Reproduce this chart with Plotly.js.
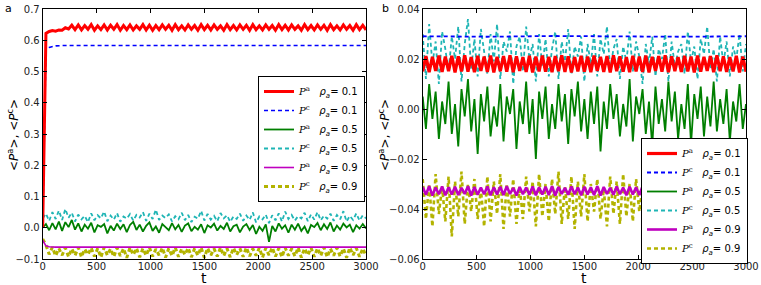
<!DOCTYPE html>
<html><head><meta charset="utf-8">
<script src="https://cdn.plot.ly/plotly-3.0.1.min.js"></script>
<style>html,body{margin:0;padding:0;background:#fff}#chart{width:761px;height:285px}</style>
</head><body><div id="chart"></div>
<script>
// sample times (every 30 steps)
const t = Array.from({length: 101}, (_, i) => i * 30);
const tBlueA = [0, 30, 60, 90, 120, 180, 3000];
const tMagA = [0, 30, 60, 120, 3000];
const tBlueB = [0, 600, 1200, 1800, 2400, 3000];

// ---------- panel a ----------
const redA = [0.000,0.622,0.628,0.631,0.629,0.633,0.632,0.640,0.636,0.648,
 0.634,0.649,0.633,0.647,0.635,0.650,0.632,0.646,0.634,0.649,
 0.633,0.648,0.635,0.650,0.632,0.647,0.634,0.649,0.633,0.646,
 0.635,0.650,0.633,0.648,0.632,0.647,0.634,0.649,0.635,0.648,
 0.632,0.650,0.634,0.646,0.633,0.649,0.635,0.647,0.632,0.650,
 0.634,0.648,0.633,0.649,0.635,0.646,0.632,0.650,0.634,0.647,
 0.633,0.649,0.635,0.648,0.632,0.650,0.634,0.646,0.633,0.649,
 0.635,0.647,0.632,0.650,0.634,0.648,0.633,0.649,0.635,0.646,
 0.632,0.650,0.634,0.647,0.633,0.649,0.635,0.648,0.632,0.650,
 0.634,0.646,0.633,0.649,0.635,0.647,0.632,0.650,0.634,0.648,0.633];
const blueA = [0.000,0.572,0.577,0.580,0.582,0.583,0.583];
const greenA = [0.000,0.012,-0.008,0.015,-0.005,0.020,-0.010,0.018,0.002,0.025,
 -0.006,0.014,-0.012,0.010,-0.003,0.016,-0.015,0.008,0.003,0.012,
 -0.018,0.006,-0.009,0.013,-0.004,0.011,-0.014,0.009,0.019,-0.007,
 0.010,-0.012,0.006,0.017,-0.010,0.004,-0.016,0.012,0.002,-0.008,
 0.015,-0.005,0.009,-0.013,0.007,0.014,-0.011,0.003,-0.006,0.011,
 -0.017,0.008,0.001,0.013,-0.009,0.006,-0.004,0.016,-0.012,0.005,
 0.010,-0.015,0.004,0.012,-0.007,0.009,-0.020,0.003,-0.010,0.011,
 -0.045,0.006,-0.012,0.014,-0.003,0.008,-0.016,0.010,-0.006,0.013,
 -0.010,0.004,-0.018,0.009,0.002,0.015,-0.008,0.011,-0.004,0.017,
 -0.012,0.007,-0.006,0.013,0.001,0.010,-0.014,0.008,-0.003,0.012,-0.002];
const cyanA = [0.030,0.045,0.022,0.050,0.028,0.055,0.025,0.060,0.032,0.048,
 0.020,0.042,0.027,0.038,0.018,0.046,0.024,0.040,0.030,0.052,
 0.021,0.039,0.026,0.047,0.019,0.036,0.029,0.044,0.023,0.041,
 0.033,0.050,0.022,0.045,0.028,0.058,0.025,0.039,0.031,0.043,
 0.020,0.037,0.027,0.048,0.024,0.041,0.018,0.035,0.029,0.054,
 0.023,0.044,0.026,0.038,0.021,0.047,0.030,0.040,0.019,0.036,
 0.028,0.045,0.022,0.039,0.025,0.049,0.017,0.036,0.027,0.042,
 0.015,0.040,0.024,0.046,0.020,0.052,0.028,0.041,0.023,0.037,
 0.030,0.048,0.021,0.043,0.026,0.050,0.024,0.039,0.029,0.045,
 0.022,0.041,0.027,0.053,0.020,0.038,0.025,0.046,0.023,0.040,0.030];
const magA = [-0.040,-0.058,-0.061,-0.062,-0.062];
const yelA = [-0.036,-0.055,-0.085,-0.062,-0.090,-0.066,-0.088,-0.064,-0.093,-0.067,
 -0.089,-0.063,-0.094,-0.068,-0.086,-0.064,-0.092,-0.066,-0.095,-0.063,
 -0.088,-0.067,-0.093,-0.064,-0.090,-0.066,-0.096,-0.063,-0.087,-0.065,
 -0.094,-0.066,-0.089,-0.063,-0.092,-0.068,-0.088,-0.064,-0.095,-0.066,
 -0.090,-0.063,-0.093,-0.067,-0.087,-0.064,-0.094,-0.066,-0.089,-0.063,
 -0.096,-0.065,-0.088,-0.067,-0.092,-0.063,-0.090,-0.066,-0.094,-0.064,
 -0.087,-0.066,-0.093,-0.063,-0.091,-0.067,-0.089,-0.064,-0.095,-0.065,
 -0.088,-0.063,-0.092,-0.066,-0.094,-0.064,-0.089,-0.067,-0.091,-0.063,
 -0.095,-0.066,-0.088,-0.064,-0.093,-0.065,-0.090,-0.063,-0.094,-0.067,
 -0.089,-0.064,-0.092,-0.066,-0.096,-0.063,-0.088,-0.065,-0.093,-0.066,-0.090];

// ---------- panel b ----------
const redB = [0.0150,0.0212,0.0147,0.0209,0.0152,0.0214,0.0148,0.0210,0.0151,0.0213,
 0.0146,0.0211,0.0150,0.0215,0.0149,0.0208,0.0147,0.0213,0.0152,0.0210,
 0.0148,0.0214,0.0146,0.0209,0.0151,0.0212,0.0149,0.0215,0.0147,0.0211,
 0.0152,0.0208,0.0148,0.0213,0.0146,0.0210,0.0150,0.0214,0.0149,0.0209,
 0.0147,0.0212,0.0151,0.0215,0.0148,0.0211,0.0146,0.0208,0.0150,0.0213,
 0.0149,0.0210,0.0147,0.0214,0.0152,0.0209,0.0148,0.0212,0.0146,0.0215,
 0.0151,0.0211,0.0149,0.0208,0.0147,0.0213,0.0150,0.0210,0.0148,0.0214,
 0.0146,0.0209,0.0152,0.0212,0.0149,0.0215,0.0147,0.0211,0.0151,0.0208,
 0.0148,0.0213,0.0150,0.0210,0.0146,0.0214,0.0149,0.0209,0.0152,0.0212,
 0.0147,0.0215,0.0151,0.0211,0.0148,0.0208,0.0150,0.0213,0.0146,0.0210,0.0149];
const blueB = [0.0291,0.0289,0.0292,0.0290,0.0289,0.0291];
const greenB = [0.005,-0.008,0.010,-0.004,0.007,-0.012,0.003,-0.006,0.011,-0.010,
 0.002,-0.015,0.008,-0.003,0.012,-0.009,0.004,-0.018,0.006,-0.005,
 0.009,-0.011,0.001,-0.007,0.010,-0.013,0.005,-0.002,0.008,-0.016,
 0.003,-0.006,0.011,-0.010,0.004,-0.020,0.007,-0.004,0.009,-0.012,
 0.002,-0.008,0.010,-0.005,0.006,-0.014,0.008,-0.003,0.011,-0.009,
 0.004,-0.012,0.007,-0.006,0.009,-0.017,0.003,-0.008,0.010,-0.004,
 0.006,-0.011,0.002,-0.007,0.012,-0.013,0.005,-0.002,0.008,-0.010,
 0.003,-0.015,0.009,-0.006,0.004,-0.009,0.011,-0.005,0.007,-0.012,
 0.002,-0.008,0.010,-0.014,0.006,-0.004,0.009,-0.011,0.005,-0.007,
 0.011,-0.009,0.004,-0.006,0.008,-0.013,0.003,-0.005,0.010,-0.008,0.002];
const cyanB = [0.030,0.012,0.034,0.018,0.027,0.010,0.031,0.024,0.015,0.029,
 0.020,0.033,0.011,0.026,0.036,0.016,0.028,0.013,0.032,0.022,
 0.014,0.030,0.019,0.034,0.012,0.027,0.023,0.031,0.010,0.025,
 0.029,0.015,0.033,0.020,0.026,0.011,0.030,0.017,0.028,0.013,
 0.024,0.031,0.012,0.027,0.019,0.032,0.014,0.025,0.021,0.029,
 0.011,0.026,0.018,0.030,0.013,0.028,0.022,0.033,0.016,0.024,
 0.028,0.012,0.025,0.019,0.031,0.015,0.027,0.021,0.010,0.026,
 0.018,0.029,0.013,0.024,0.020,0.030,0.011,0.027,0.017,0.023,
 0.026,0.014,0.031,0.019,0.025,0.012,0.028,0.022,0.033,0.016,
 0.024,0.011,0.029,0.018,0.027,0.013,0.025,0.020,0.030,0.015,0.026];
const magB = [-0.0312,-0.0343,-0.0309,-0.0346,-0.0314,-0.0341,-0.0310,-0.0345,-0.0313,-0.0342,
 -0.0311,-0.0344,-0.0315,-0.0340,-0.0309,-0.0346,-0.0312,-0.0343,-0.0314,-0.0341,
 -0.0310,-0.0345,-0.0313,-0.0342,-0.0311,-0.0344,-0.0309,-0.0340,-0.0315,-0.0346,
 -0.0312,-0.0341,-0.0314,-0.0343,-0.0310,-0.0345,-0.0313,-0.0342,-0.0311,-0.0344,
 -0.0309,-0.0346,-0.0312,-0.0340,-0.0315,-0.0343,-0.0310,-0.0341,-0.0314,-0.0345,
 -0.0311,-0.0342,-0.0313,-0.0344,-0.0309,-0.0346,-0.0312,-0.0340,-0.0315,-0.0343,
 -0.0310,-0.0341,-0.0314,-0.0345,-0.0311,-0.0342,-0.0313,-0.0344,-0.0309,-0.0346,
 -0.0312,-0.0340,-0.0315,-0.0343,-0.0310,-0.0341,-0.0314,-0.0345,-0.0311,-0.0342,
 -0.0313,-0.0344,-0.0309,-0.0346,-0.0312,-0.0340,-0.0315,-0.0343,-0.0310,-0.0341,
 -0.0314,-0.0345,-0.0311,-0.0342,-0.0313,-0.0344,-0.0309,-0.0346,-0.0312,-0.0340,-0.0315];
const yelB = [-0.028,-0.044,-0.030,-0.047,-0.026,-0.042,-0.031,-0.045,-0.027,-0.051,
 -0.029,-0.043,-0.025,-0.046,-0.030,-0.041,-0.028,-0.044,-0.032,-0.047,
 -0.027,-0.045,-0.029,-0.042,-0.026,-0.048,-0.030,-0.043,-0.028,-0.046,
 -0.031,-0.044,-0.027,-0.041,-0.029,-0.047,-0.026,-0.043,-0.030,-0.045,
 -0.028,-0.042,-0.025,-0.046,-0.031,-0.044,-0.027,-0.048,-0.029,-0.043,
 -0.026,-0.045,-0.030,-0.041,-0.028,-0.044,-0.032,-0.047,-0.027,-0.042,
 -0.029,-0.046,-0.026,-0.043,-0.030,-0.045,-0.028,-0.041,-0.031,-0.044,
 -0.027,-0.048,-0.029,-0.042,-0.025,-0.045,-0.030,-0.043,-0.028,-0.046,
 -0.031,-0.041,-0.027,-0.044,-0.029,-0.047,-0.026,-0.043,-0.030,-0.045,
 -0.028,-0.042,-0.030,-0.046,-0.027,-0.044,-0.029,-0.041,-0.031,-0.045,-0.028];

const rhoLabels = ['0.1', '0.1', '0.5', '0.5', '0.9', '0.9'];
const pLabels = ['a', 'c', 'a', 'c', 'a', 'c'];
const colors = ['#ff0000', '#0000ff', '#007f00', '#1fb5b5', '#bf00bf', '#b3b300'];
const dashed = [false, true, false, true, false, true];

function label(i) {
  return '<span style="font-family:\'DejaVu Serif\'"><i>P</i><sup>' + pLabels[i] + '</sup></span>' +
    '\u00a0\u00a0\u00a0<i>\u03c1</i><sub><i>a</i></sub>= ' + rhoLabels[i];
}

const setA = [[t, redA], [tBlueA, blueA], [t, greenA], [t, cyanA], [tMagA, magA], [t, yelA]];
const setB = [[t, redB], [tBlueB, blueB], [t, greenB], [t, cyanB], [t, magB], [t, yelB]];
const widthA = [3.0, 1.6, 1.8, 1.8, 1.6, 3.0];
const widthB = [3.2, 1.8, 1.8, 1.8, 2.6, 2.6];

// drawn last-to-first so the first legend entry ends up on top
const traces = [];
for (let i = setA.length - 1; i >= 0; i--) traces.push({
  x: setA[i][0], y: setA[i][1], type: 'scatter', mode: 'lines', name: label(i),
  xaxis: 'x', yaxis: 'y', legend: 'legend',
  line: {color: colors[i], width: widthA[i], dash: dashed[i] ? '4px,3px' : 'solid'}
});
for (let i = setB.length - 1; i >= 0; i--) traces.push({
  x: setB[i][0], y: setB[i][1], type: 'scatter', mode: 'lines', name: label(i),
  xaxis: 'x2', yaxis: 'y2', legend: 'legend2',
  line: {color: colors[i], width: widthB[i], dash: dashed[i] ? '4px,3px' : 'solid'}
});

const W = 761, H = 285;
const tickFont = {family: 'DejaVu Sans', size: 10, color: '#222'};
const axBase = {
  showline: true, linecolor: '#000', linewidth: 1, mirror: 'allticks',
  ticks: 'inside', ticklen: 4, tickcolor: '#000', showgrid: false, zeroline: false,
  tickfont: tickFont
};
const legBase = {
  bgcolor: '#fff', bordercolor: '#000', borderwidth: 1, traceorder: 'reversed',
  font: {family: 'DejaVu Sans', size: 10, color: '#000'},
  xanchor: 'left', yanchor: 'top', itemwidth: 30, tracegroupgap: 0
};

const layout = {
  width: W, height: H,
  margin: {l: 0, r: 0, t: 0, b: 0},
  paper_bgcolor: '#fff', plot_bgcolor: '#fff',
  showlegend: true,
  xaxis: Object.assign({}, axBase, {domain: [42.7 / W, 366 / W], range: [0, 3000], dtick: 500, tick0: 0, anchor: 'y', ticklabelstandoff: -2}),
  yaxis: Object.assign({}, axBase, {domain: [26 / H, 276 / H], range: [-0.1, 0.7], dtick: 0.1, tick0: 0, tickformat: '.1f', anchor: 'x'}),
  xaxis2: Object.assign({}, axBase, {domain: [422.7 / W, 746 / W], range: [0, 3000], dtick: 500, tick0: 0, anchor: 'y2', ticklabelstandoff: -2}),
  yaxis2: Object.assign({}, axBase, {domain: [26 / H, 276 / H], range: [-0.06, 0.04], dtick: 0.02, tick0: 0, tickformat: '.2f', anchor: 'x2'}),
  legend: Object.assign({}, legBase, {x: 258 / W, y: 1 - 76 / H}),
  legend2: Object.assign({}, legBase, {x: 641 / W, y: 1 - 138 / H}),
  annotations: [
    {text: 'a', xref: 'paper', yref: 'paper', x: 8 / W, y: 1 - 9 / H, showarrow: false, xanchor: 'center', yanchor: 'middle', font: {family: 'DejaVu Sans', size: 11, color: '#000'}},
    {text: 'b', xref: 'paper', yref: 'paper', x: 385 / W, y: 1 - 9 / H, showarrow: false, xanchor: 'center', yanchor: 'middle', font: {family: 'DejaVu Sans', size: 11, color: '#000'}},
    {text: 't', xref: 'paper', yref: 'paper', x: 204 / W, y: 1 - 278 / H, showarrow: false, xanchor: 'center', yanchor: 'middle', borderpad: 0, font: {family: 'DejaVu Sans', size: 14, color: '#000'}},
    {text: 't', xref: 'paper', yref: 'paper', x: 584 / W, y: 1 - 278 / H, showarrow: false, xanchor: 'center', yanchor: 'middle', borderpad: 0, font: {family: 'DejaVu Sans', size: 14, color: '#000'}},
    {text: '&lt;<i>P</i><sup>a</sup>&gt;, &lt;<i>P</i><sup>c</sup>&gt;', xref: 'paper', yref: 'paper', x: 13 / W, y: 1 - 135 / H, textangle: -90, showarrow: false, xanchor: 'center', yanchor: 'middle', font: {family: 'DejaVu Sans', size: 12, color: '#000'}},
    {text: '&lt;<i>P</i><sup>a</sup>&gt;, &lt;<i>P</i><sup>c</sup>&gt;', xref: 'paper', yref: 'paper', x: 384 / W, y: 1 - 135 / H, textangle: -90, showarrow: false, xanchor: 'center', yanchor: 'middle', font: {family: 'DejaVu Sans', size: 12, color: '#000'}}
  ]
};

Plotly.newPlot('chart', traces, layout, {staticPlot: true, displayModeBar: false});
</script>
</body></html>
